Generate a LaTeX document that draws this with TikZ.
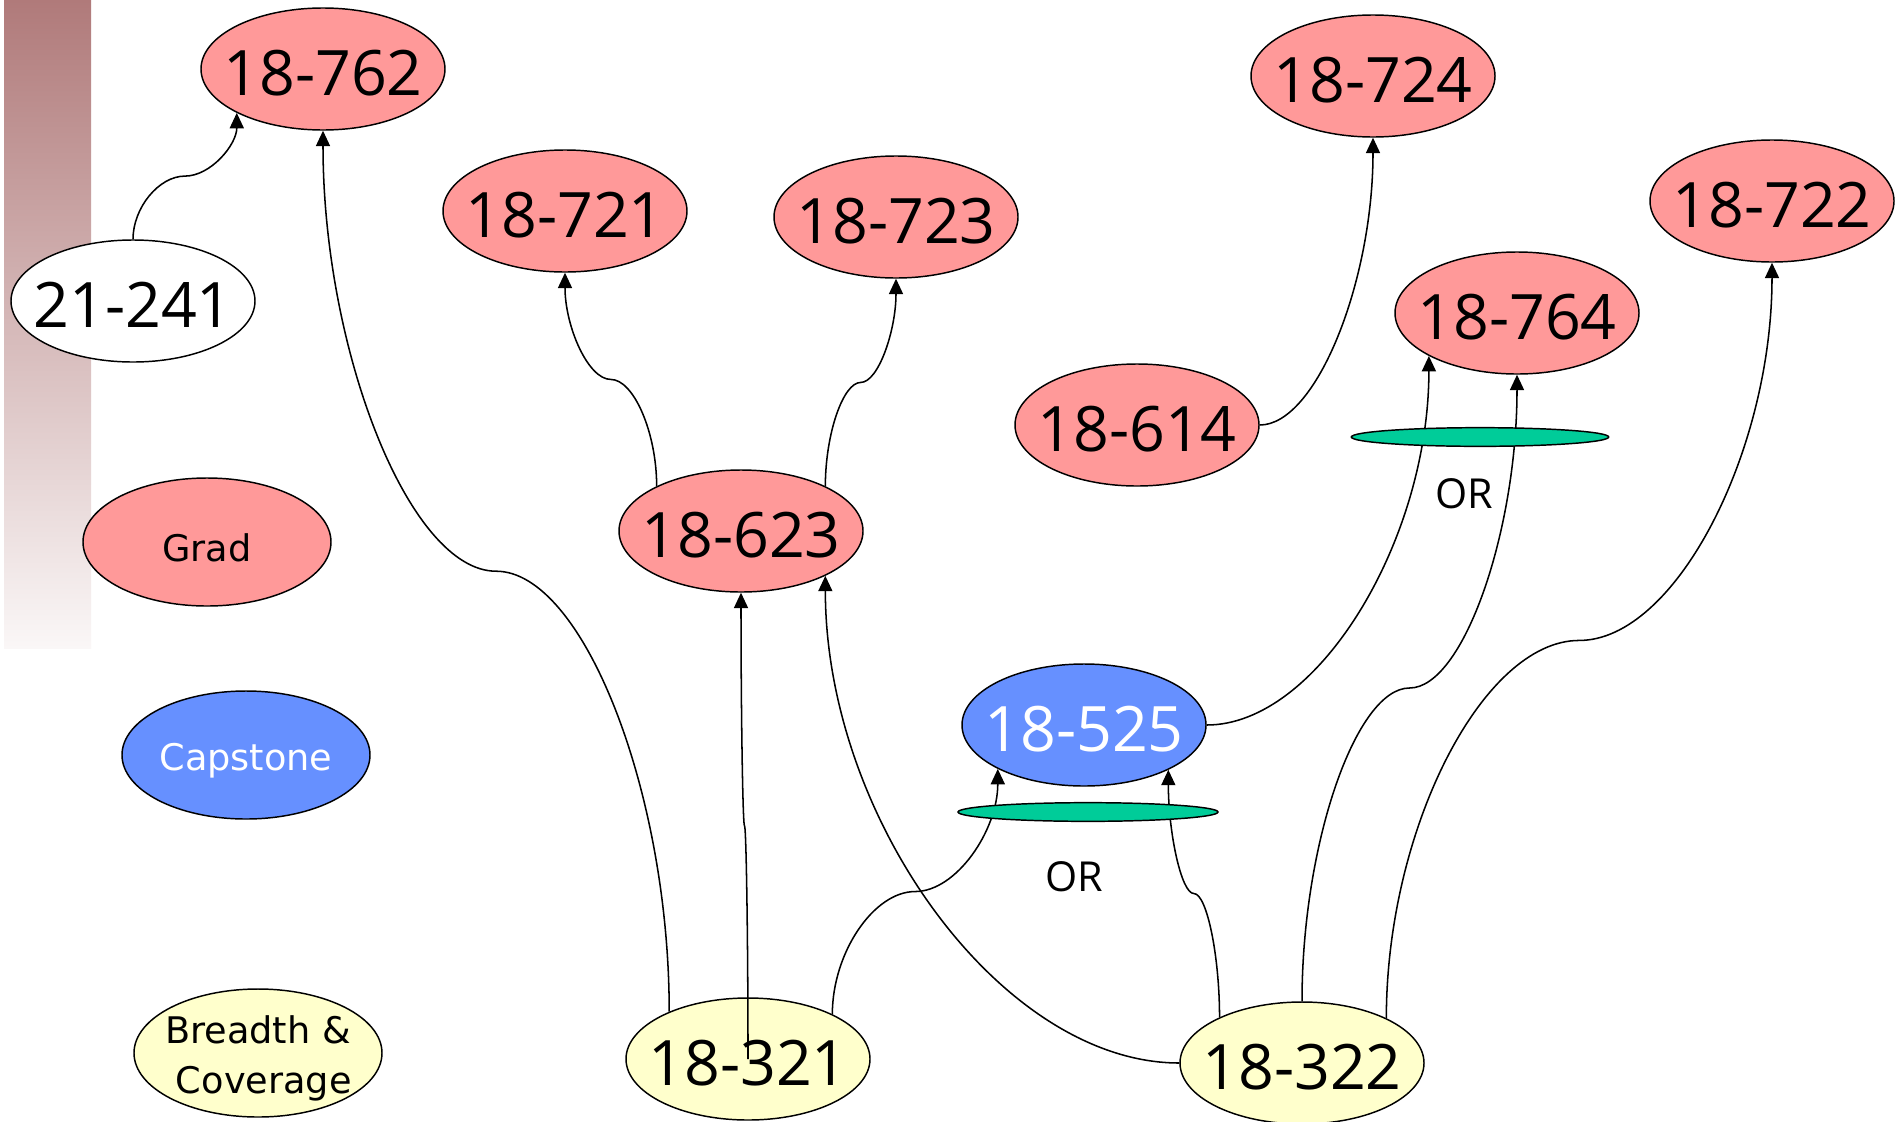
\documentclass[tikz,border=0pt]{standalone}
\usepackage{fontspec}
\setmainfont{DejaVu Sans}
\newfontfamily\numfont{Open Sans}
\usetikzlibrary{shapes.geometric,arrows.meta,calc}
\definecolor{gradc}{HTML}{FF9999}
\definecolor{capc}{HTML}{6690FF}
\definecolor{brc}{HTML}{FFFFCC}
\definecolor{orc}{HTML}{00CC99}
\definecolor{barc}{HTML}{B07A7A}
\tikzset{
  course/.style={ellipse, draw=black, line width=1.1pt, fill=#1,
    minimum width=183pt, minimum height=91.5pt, inner sep=0pt},
  legend/.style={ellipse, draw=black, line width=1.1pt, fill=#1,
    minimum width=186pt, minimum height=96pt, inner sep=0pt},
  numlbl/.style={font=\numfont\fontsize{47}{56}\selectfont, inner sep=0pt, yshift=-3pt},
  legtext/.style={font=\fontsize{27.5}{38}\selectfont, inner sep=0pt, align=center, yshift=-4pt},
  orbar/.style={ellipse, draw=black, line width=1.1pt, fill=orc,
    minimum width=#1, minimum height=14pt, inner sep=0pt},
  ortext/.style={font=\numfont\fontsize{31}{36}\selectfont, inner sep=0pt},
  conn/.style={draw=black, line width=1.15pt, -{Triangle[length=11.5pt,width=10.5pt]}}
}
\newcommand{\scurve}[2]{%
  \path (#1) coordinate (sA) (#2) coordinate (sB);
  \path ($(sA)!0.5!(sB)$) coordinate (sM);
  \draw[conn] (sA) .. controls ($(sA)!0.5!(sA|-sM)$) and ($(sM)!0.5!(sA|-sM)$) .. (sM)
    .. controls ($(sM)!0.5!(sB|-sM)$) and ($(sB)!0.5!(sB|-sM)$) .. (sB);}
\newcommand{\lcurve}[2]{%
  \path (#1) coordinate (sA) (#2) coordinate (sB);
  \draw[conn] (sA) .. controls ($(sA)!0.5!(sB|-sA)$) and ($(sB)!0.5!(sB|-sA)$) .. (sB);}
\begin{document}
\begin{tikzpicture}[x=0.75pt, y=-0.75pt]
\useasboundingbox (0,0) rectangle (1902,1121);
\fill[white] (0,0) rectangle (1902,1121);
% side bar
\shade[top color=barc, bottom color=barc!6] (4,0) rectangle (91,648);

% course nodes
\node[course=gradc, label={[numlbl]center:18-762}] (n762) at (323,69) {};
\node[course=white, label={[numlbl]center:21-241}] (n241) at (133,301) {};
\node[course=gradc, label={[numlbl]center:18-721}] (n721) at (565,211) {};
\node[course=gradc, label={[numlbl]center:18-723}] (n723) at (896,217) {};
\node[course=gradc, label={[numlbl]center:18-724}] (n724) at (1373,76) {};
\node[course=gradc, label={[numlbl]center:18-722}] (n722) at (1772,201) {};
\node[course=gradc, label={[numlbl]center:18-764}] (n764) at (1517,313) {};
\node[course=gradc, label={[numlbl]center:18-614}] (n614) at (1137,425) {};
\node[course=gradc, label={[numlbl]center:18-623}] (n623) at (741,531) {};
\node[course=capc, label={[numlbl,text=white]center:18-525}] (n525) at (1084,725) {};
\node[course=brc, label={[numlbl]center:18-321}] (n321) at (748,1059) {};
\node[course=brc, label={[numlbl]center:18-322}] (n322) at (1302,1063) {};

% legend
\node[legend=gradc, label={[legtext]center:Grad}] (lgrad) at (207,542) {};
\node[legend=capc, label={[legtext,text=white]center:Capstone}] (lcap) at (246,755) {};
\node[legend=brc, label={[legtext]center:Breadth \&\\\ Coverage}] (lbr) at (258,1053) {};

% connectors
\scurve{n241.90}{n762.207}
\scurve{n321.149}{n762.270}
\scurve{n321.center}{n623.270}
\scurve{n321.28}{n525.207}
\lcurve{n322.180}{n623.332}
\scurve{n322.151}{n525.332}
\scurve{n322.90}{n764.270}
\lcurve{n525.0}{n764.206}
\scurve{n322.28}{n722.270}
\lcurve{n614.0}{n724.270}
\scurve{n623.152}{n721.270}
\scurve{n623.28}{n723.270}

% OR bars
\node[orbar=193pt] (orup) at (1480,437) {};
\node[orbar=195pt] (orlow) at (1088,812) {};
\node[ortext] (orupt) at (1464,494) {OR};
\node[ortext] (orlowt) at (1074,877) {OR};
\end{tikzpicture}
\end{document}
